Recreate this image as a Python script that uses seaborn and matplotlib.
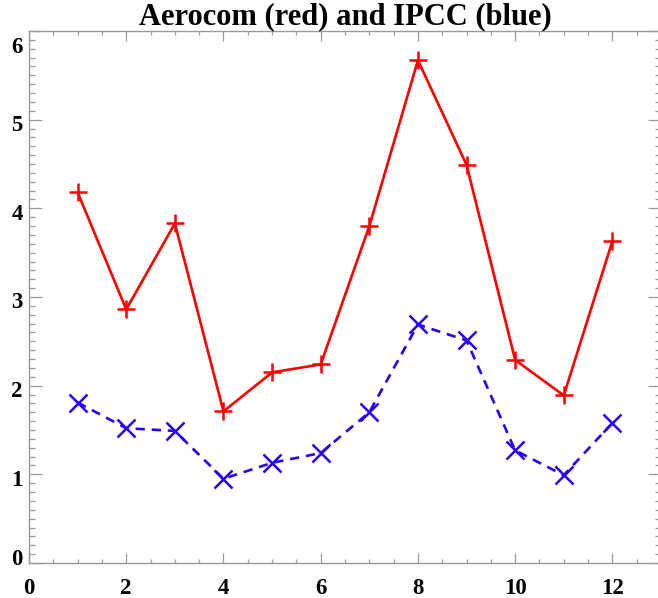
import matplotlib
matplotlib.use("Agg")
import matplotlib.pyplot as plt
import matplotlib.transforms as mtransforms
from matplotlib.ticker import MultipleLocator, FixedLocator
import seaborn as sns
import pandas as pd

months = [1, 2, 3, 4, 5, 6, 7, 8, 9, 10, 11, 12]
aerocom = [4.18, 2.86, 3.83, 1.71, 2.15, 2.24, 3.80, 5.67, 4.49, 2.29, 1.89, 3.63]
ipcc = [1.81, 1.52, 1.49, 0.95, 1.13, 1.24, 1.70, 2.69, 2.51, 1.27, 0.99, 1.58]
title = "Aerocom (red) and IPCC (blue)"

df = pd.DataFrame({"month": months, "aerocom": aerocom, "ipcc": ipcc})

sns.set_style("white")
plt.rcParams["font.family"] = ["Liberation Serif", "DejaVu Serif"]
plt.rcParams["font.weight"] = "bold"
plt.rcParams["text.color"] = "black"
plt.rcParams["xtick.color"] = "black"
plt.rcParams["ytick.color"] = "black"

W, H = 658, 598
fig = plt.figure(figsize=(W / 100, H / 100), dpi=100)
ax = fig.add_axes([29 / W, (H - 563) / H, (661 - 29) / W, (563 - 31) / H])

red = "#ff0000"
blue = "#2a00f0"
sns.lineplot(data=df, x="month", y="aerocom", ax=ax, color=red,
             linewidth=1.9, marker="+", markersize=13, markeredgewidth=1.8,
             markeredgecolor=red)
sns.lineplot(data=df, x="month", y="ipcc", ax=ax, color=blue,
             linewidth=1.9, linestyle=(0, (3.5, 2.6)), marker="x",
             markersize=12.5, markeredgewidth=1.8, markeredgecolor=blue)

ax.set_xlim(0, 13)
ax.set_ylim(0, 6)
ax.set_xlabel("")
ax.set_ylabel("")
ax.xaxis.set_major_locator(FixedLocator([0, 2, 4, 6, 8, 10, 12]))
ax.xaxis.set_minor_locator(MultipleLocator(0.5))
ax.yaxis.set_major_locator(FixedLocator([0, 1, 2, 3, 4, 5, 6]))
ax.yaxis.set_minor_locator(MultipleLocator(0.1))

gray = "#9a9a9a"
for sp in ax.spines.values():
    sp.set_color(gray)
    sp.set_linewidth(1.0)
ax.tick_params(axis="both", which="both", direction="in", color=gray,
               labelcolor="black", top=True, right=True, bottom=True,
               left=True, labelsize=16.5, width=0.9)
ax.tick_params(axis="x", which="major", length=7.2, pad=11)
ax.tick_params(axis="x", which="minor", length=2.8)
ax.tick_params(axis="y", which="major", length=9.3, pad=4.5)
ax.tick_params(axis="y", which="minor", length=4.3)

for lab in ax.get_xticklabels() + ax.get_yticklabels():
    lab.set_fontweight("bold")

ylabs = ax.get_yticklabels()
for i, lab in enumerate(ylabs):
    if i == 0:
        dy = 6
    elif i == len(ylabs) - 1:
        dy = -14
    else:
        dy = -3.5
    lab.set_transform(lab.get_transform() +
                      mtransforms.ScaledTranslation(0, dy / 100, fig.dpi_scale_trans))

ax.set_title(title, fontsize=22, fontweight="bold", pad=1.5, color="black")

fig.savefig("out.png", dpi=100)
